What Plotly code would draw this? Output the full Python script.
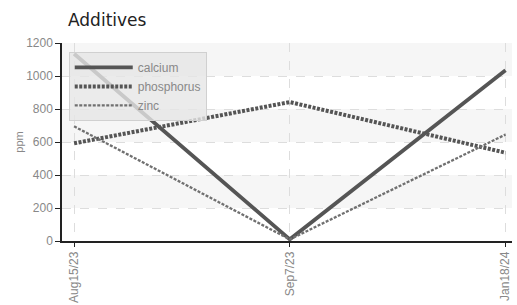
import plotly.graph_objects as go

dates = ["Aug15/23", "Sep7/23", "Jan18/24"]
calcium = [1135, 10, 1035]
phosphorus = [592, 842, 535]
zinc = [695, 10, 645]
band_edges = [(1000, 1200), (600, 800), (200, 400)]

font_c = "Liberation Sans, Arial, sans-serif"

fig = go.Figure()
fig.add_trace(go.Scatter(x=dates, y=calcium, name="calcium", mode="lines",
                         line=dict(color="#555555", width=3.8)))
fig.add_trace(go.Scatter(x=dates, y=phosphorus, name="phosphorus", mode="lines",
                         line=dict(color="#555555", width=4, dash="3px,1.5px")))
fig.add_trace(go.Scatter(x=dates, y=zinc, name="zinc", mode="lines",
                         line=dict(color="#707070", width=2.3, dash="3px,1.5px")))

for lo, hi in band_edges:
    fig.add_shape(type="rect", xref="paper", yref="y", x0=0, x1=1, y0=lo, y1=hi,
                  fillcolor="#f6f6f6", line=dict(width=0), layer="below")

fig.update_layout(
    width=517, height=305,
    margin=dict(l=62, r=5, t=43, b=64, autoexpand=False),
    paper_bgcolor="white", plot_bgcolor="white",
    title=dict(text="Additives", x=68/517, xanchor="left", y=1-20/305, yanchor="middle",
               automargin=False,
               font=dict(family="DejaVu Sans, sans-serif", size=17, color="#222222")),
    showlegend=True,
    legend=dict(x=0.015, y=0.955, xanchor="left", yanchor="top",
                bgcolor="rgba(230,230,230,0.8)", bordercolor="#d0d0d0", borderwidth=1,
                font=dict(family=font_c, size=12, color="#888888"),
                itemwidth=58, tracegroupgap=0),
    font=dict(family=font_c, color="#888888", size=12),
)
fig.update_xaxes(type="category", range=[-0.056, 2.03], automargin=False,
                 showline=True, linecolor="#222222", linewidth=1.5,
                 ticks="outside", ticklen=4, tickcolor="#222222",
                 showgrid=True, gridcolor="#dddddd", griddash="dash", gridwidth=1,
                 tickangle=-90, tickfont=dict(family=font_c, size=12, color="#888888"),
                 zeroline=False)
fig.update_yaxes(range=[0, 1200], dtick=200, automargin=False,
                 showline=True, linecolor="#222222", linewidth=1.5,
                 ticks="outside", ticklen=5, tickcolor="#222222",
                 showgrid=True, gridcolor="#dddddd", griddash="dash", gridwidth=1,
                 tickfont=dict(family=font_c, size=12, color="#888888"),
                 title=dict(text="ppm", standoff=0, font=dict(family=font_c, size=11, color="#888888")),
                 zeroline=False)

fig.write_html("out.html", config={"displayModeBar": False},
               post_script="document.body.style.margin='0';")
